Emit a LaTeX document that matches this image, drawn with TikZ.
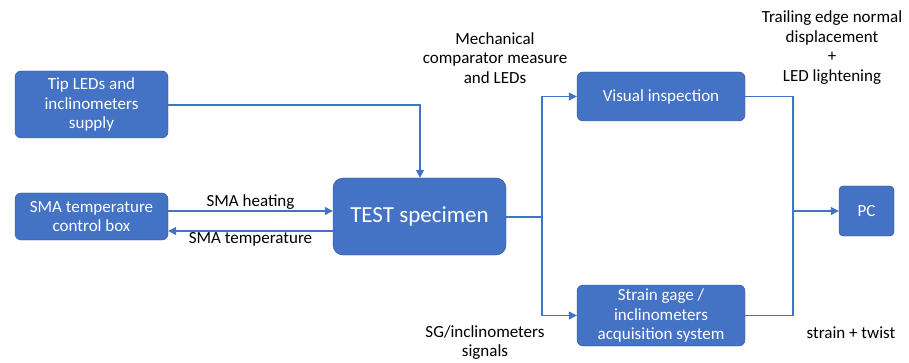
\documentclass[tikz,border=0pt]{standalone}
\usepackage{fontspec}
\setmainfont{Carlito}
\usetikzlibrary{arrows.meta}
\definecolor{boxblue}{HTML}{4472C4}
\definecolor{boxedge}{HTML}{2F528F}
\tikzset{
  blk/.style={draw=boxedge, fill=boxblue, rounded corners=6pt, text=white, align=center, font=\fontsize{17}{19.5}\selectfont, inner sep=2pt},
  lbl/.style={align=center, text=black, font=\fontsize{17}{19.5}\selectfont},
  link/.style={boxblue, line width=1.3pt, -{Triangle[length=8pt,width=8pt]}},
  plain/.style={boxblue, line width=1.3pt}
}
\begin{document}
\begin{tikzpicture}[x=1pt,y=-1pt]
\useasboundingbox (0,0) rectangle (909,363);
% blocks
\node[blk, minimum width=153pt, minimum height=67pt] (tip) at (91.5,104.5) {Tip LEDs and\\inclinometers\\supply};
\node[blk, minimum width=153pt, minimum height=47pt] (sma) at (91.5,216.5) {SMA temperature\\control box};
\node[blk, minimum width=173pt, minimum height=77pt, rounded corners=10pt, font=\fontsize{23}{26}\selectfont] (test) at (419.5,216.5) {TEST specimen};
\node[blk, minimum width=168pt, minimum height=49pt] (vis) at (661,96.5) {Visual inspection};
\node[blk, minimum width=168pt, minimum height=61pt] (acq) at (661,315.5) {Strain gage /\\inclinometers\\acquisition system};
\node[blk, minimum width=55pt, minimum height=50pt, rounded corners=4pt] (pc) at (866.5,211) {PC};
% junctions
\coordinate (split) at (542,217);
\coordinate (merge) at (793,211);
% connectors
\draw[link] (tip.east |- 0,105) -| (test.north -| 420,0);
\draw[link] (sma.east |- 0,211) -- (test.west |- 0,211) node[midway, lbl, above, inner sep=1pt] {SMA heating};
\draw[link] (test.west |- 0,231) -- (sma.east |- 0,231) node[midway, lbl, below, inner sep=1pt] {SMA temperature};
\draw[plain] (test.east |- split) -- (split);
\draw[link] (split) |- (vis.west);
\draw[link] (split) |- (acq.west);
\draw[plain] (vis.east) -| (merge);
\draw[plain] (acq.east) -| (merge);
\draw[link] (merge) -- (pc.west |- merge);
% labels
\node[lbl] (mech) at (495,58) {Mechanical\\comparator measure\\and LEDs};
\node[lbl] (sg) at (485,342.5) {SG/inclinometers\\signals};
\node[lbl] (trail) at (832,47.5) {Trailing edge normal\\displacement\\+\\LED lightening};
\node[lbl] (twist) at (851,333) {strain + twist};
\end{tikzpicture}
\end{document}
